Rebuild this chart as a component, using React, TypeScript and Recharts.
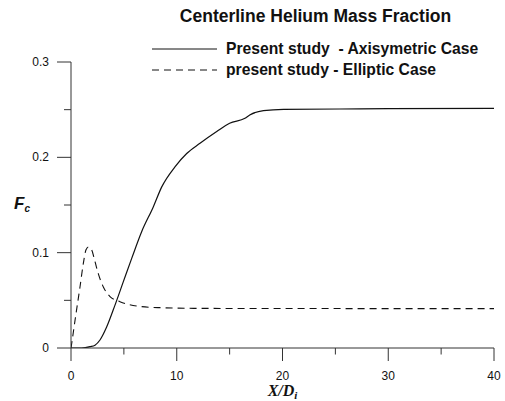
import { LineChart, Line, XAxis, YAxis } from "recharts";

const axiX = [0, 1.0, 1.8, 2.27, 2.74, 3.37, 4.16, 4.95, 5.74, 6.68, 7.78, 8.58, 9.83, 10.94, 12.2, 13.78, 15.0, 16.45, 16.9, 18.2, 20.1, 25.4, 30, 40];
const axiY = [0, 0, 0.0014, 0.003, 0.0084, 0.022, 0.045, 0.0696, 0.094, 0.122, 0.148, 0.169, 0.19, 0.204, 0.2147, 0.227, 0.2357, 0.241, 0.2444, 0.249, 0.2504, 0.2507, 0.251, 0.2513];

const ellX = [0, 0.07, 0.38, 0.85, 1.17, 1.42, 1.64, 1.95, 2.27, 2.58, 3.06, 3.69, 4.63, 6.2, 8.4, 11.6, 20, 40];
const ellY = [0, 0.005, 0.029, 0.064, 0.089, 0.103, 0.106, 0.103, 0.0905, 0.078, 0.064, 0.054, 0.0486, 0.044, 0.0423, 0.0416, 0.0414, 0.0413];

const xTicks = [0, 5, 10, 15, 20, 25, 30, 35, 40];
const yTicks = [0, 0.05, 0.1, 0.15, 0.2, 0.25, 0.3];
const xLabels = [0, 10, 20, 30, 40];
const yLabels = [0, 0.1, 0.2, 0.3];

const seriesNames = ["Present study  - Axisymetric Case", "present study - Elliptic Case"];
const seriesDash = [undefined, "7 5"];

const axiData = axiX.map((x, i) => ({ x, y: axiY[i] }));
const ellData = ellX.map((x, i) => ({ x, y: ellY[i] }));

const SANS = "Arial, 'Liberation Sans', sans-serif";
const INK = "#111";

function XTick(props: any) {
  const { x, y, payload } = props;
  const major = xLabels.includes(payload.value);
  return (
    <g>
      <line x1={x} x2={x} y1={y} y2={y + (major ? 13 : 6.5)} stroke="#333" />
      {major && (
        <text x={x} y={y + 32} textAnchor="middle" fontFamily={SANS} fontSize={12} fill={INK}>
          {payload.value}
        </text>
      )}
    </g>
  );
}

function YTick(props: any) {
  const { x, y, payload } = props;
  const major = yLabels.some((v) => Math.abs(v - payload.value) < 1e-9);
  return (
    <g>
      <line x1={x} x2={x - (major ? 14 : 7)} y1={y} y2={y} stroke="#333" />
      {major && (
        <text x={x - 22} y={y + 4} textAnchor="end" fontFamily={SANS} fontSize={12} fill={INK}>
          {payload.value}
        </text>
      )}
    </g>
  );
}

function LegendBox() {
  return (
    <div style={{ position: "absolute", left: 150, top: 38 }}>
      {seriesNames.map((name, i) => (
        <div key={name} style={{ display: "flex", alignItems: "center", height: 21, whiteSpace: "pre" }}>
          <svg width={76} height={10}>
            <line x1={2} x2={67} y1={5} y2={5} stroke={INK} strokeWidth={1} strokeDasharray={seriesDash[i]} />
          </svg>
          <span style={{ fontFamily: SANS, fontWeight: "bold", fontSize: 15.7, color: INK }}>{name}</span>
        </div>
      ))}
    </div>
  );
}

export default function App() {
  return (
    <div style={{ position: "absolute", left: 0, top: 0, width: 505, height: 401, background: "#fff" }}>
      <div
        style={{
          position: "absolute",
          left: 0,
          width: 631,
          top: 6,
          textAlign: "center",
          fontFamily: SANS,
          fontWeight: "bold",
          fontSize: 17.5,
          color: INK,
        }}
      >
        Centerline Helium Mass Fraction
      </div>
      <LegendBox />
      <LineChart width={505} height={401} margin={{ top: 62, right: 11, bottom: 0, left: 0 }}>
        <XAxis
          type="number"
          dataKey="x"
          domain={[0, 40]}
          ticks={xTicks}
          allowDataOverflow
          height={53}
          tickSize={0}
          tickMargin={0}
          tickLine={false}
          tick={<XTick />}
          axisLine={{ stroke: "#333" }}
          label={{
            content: (p: any) => {
              const vb = p.viewBox;
              return (
                <text x={vb.x + vb.width / 2} y={vb.y + 48} textAnchor="middle" fontFamily="'Liberation Serif', 'Times New Roman', serif" fontWeight="bold" fontStyle="italic" fontSize={16} fill={INK}>
                  X/D
                  <tspan fontSize={11} dy={2.5}>i</tspan>
                </text>
              );
            },
          }}
        />
        <YAxis
          type="number"
          domain={[0, 0.3]}
          ticks={yTicks}
          allowDataOverflow
          width={71}
          tickSize={0}
          tickMargin={0}
          tickLine={false}
          tick={<YTick />}
          axisLine={{ stroke: "#333" }}
          label={{
            content: (p: any) => {
              const vb = p.viewBox;
              return (
                <text x={vb.x + 14} y={vb.y + vb.height / 2 + 4} fontFamily={SANS} fontWeight="bold" fontStyle="italic" fontSize={17} fill={INK}>
                  F
                  <tspan fontSize={10} dy={3}>c</tspan>
                </text>
              );
            },
          }}
        />
        <Line
          data={axiData}
          dataKey="y"
          name={seriesNames[0]}
          type="monotone"
          stroke={INK}
          strokeWidth={1.2}
          dot={false}
          isAnimationActive={false}
        />
        <Line
          data={ellData}
          dataKey="y"
          name={seriesNames[1]}
          type="monotone"
          stroke={INK}
          strokeWidth={1.1}
          strokeDasharray={seriesDash[1]}
          dot={false}
          isAnimationActive={false}
        />
      </LineChart>
    </div>
  );
}
